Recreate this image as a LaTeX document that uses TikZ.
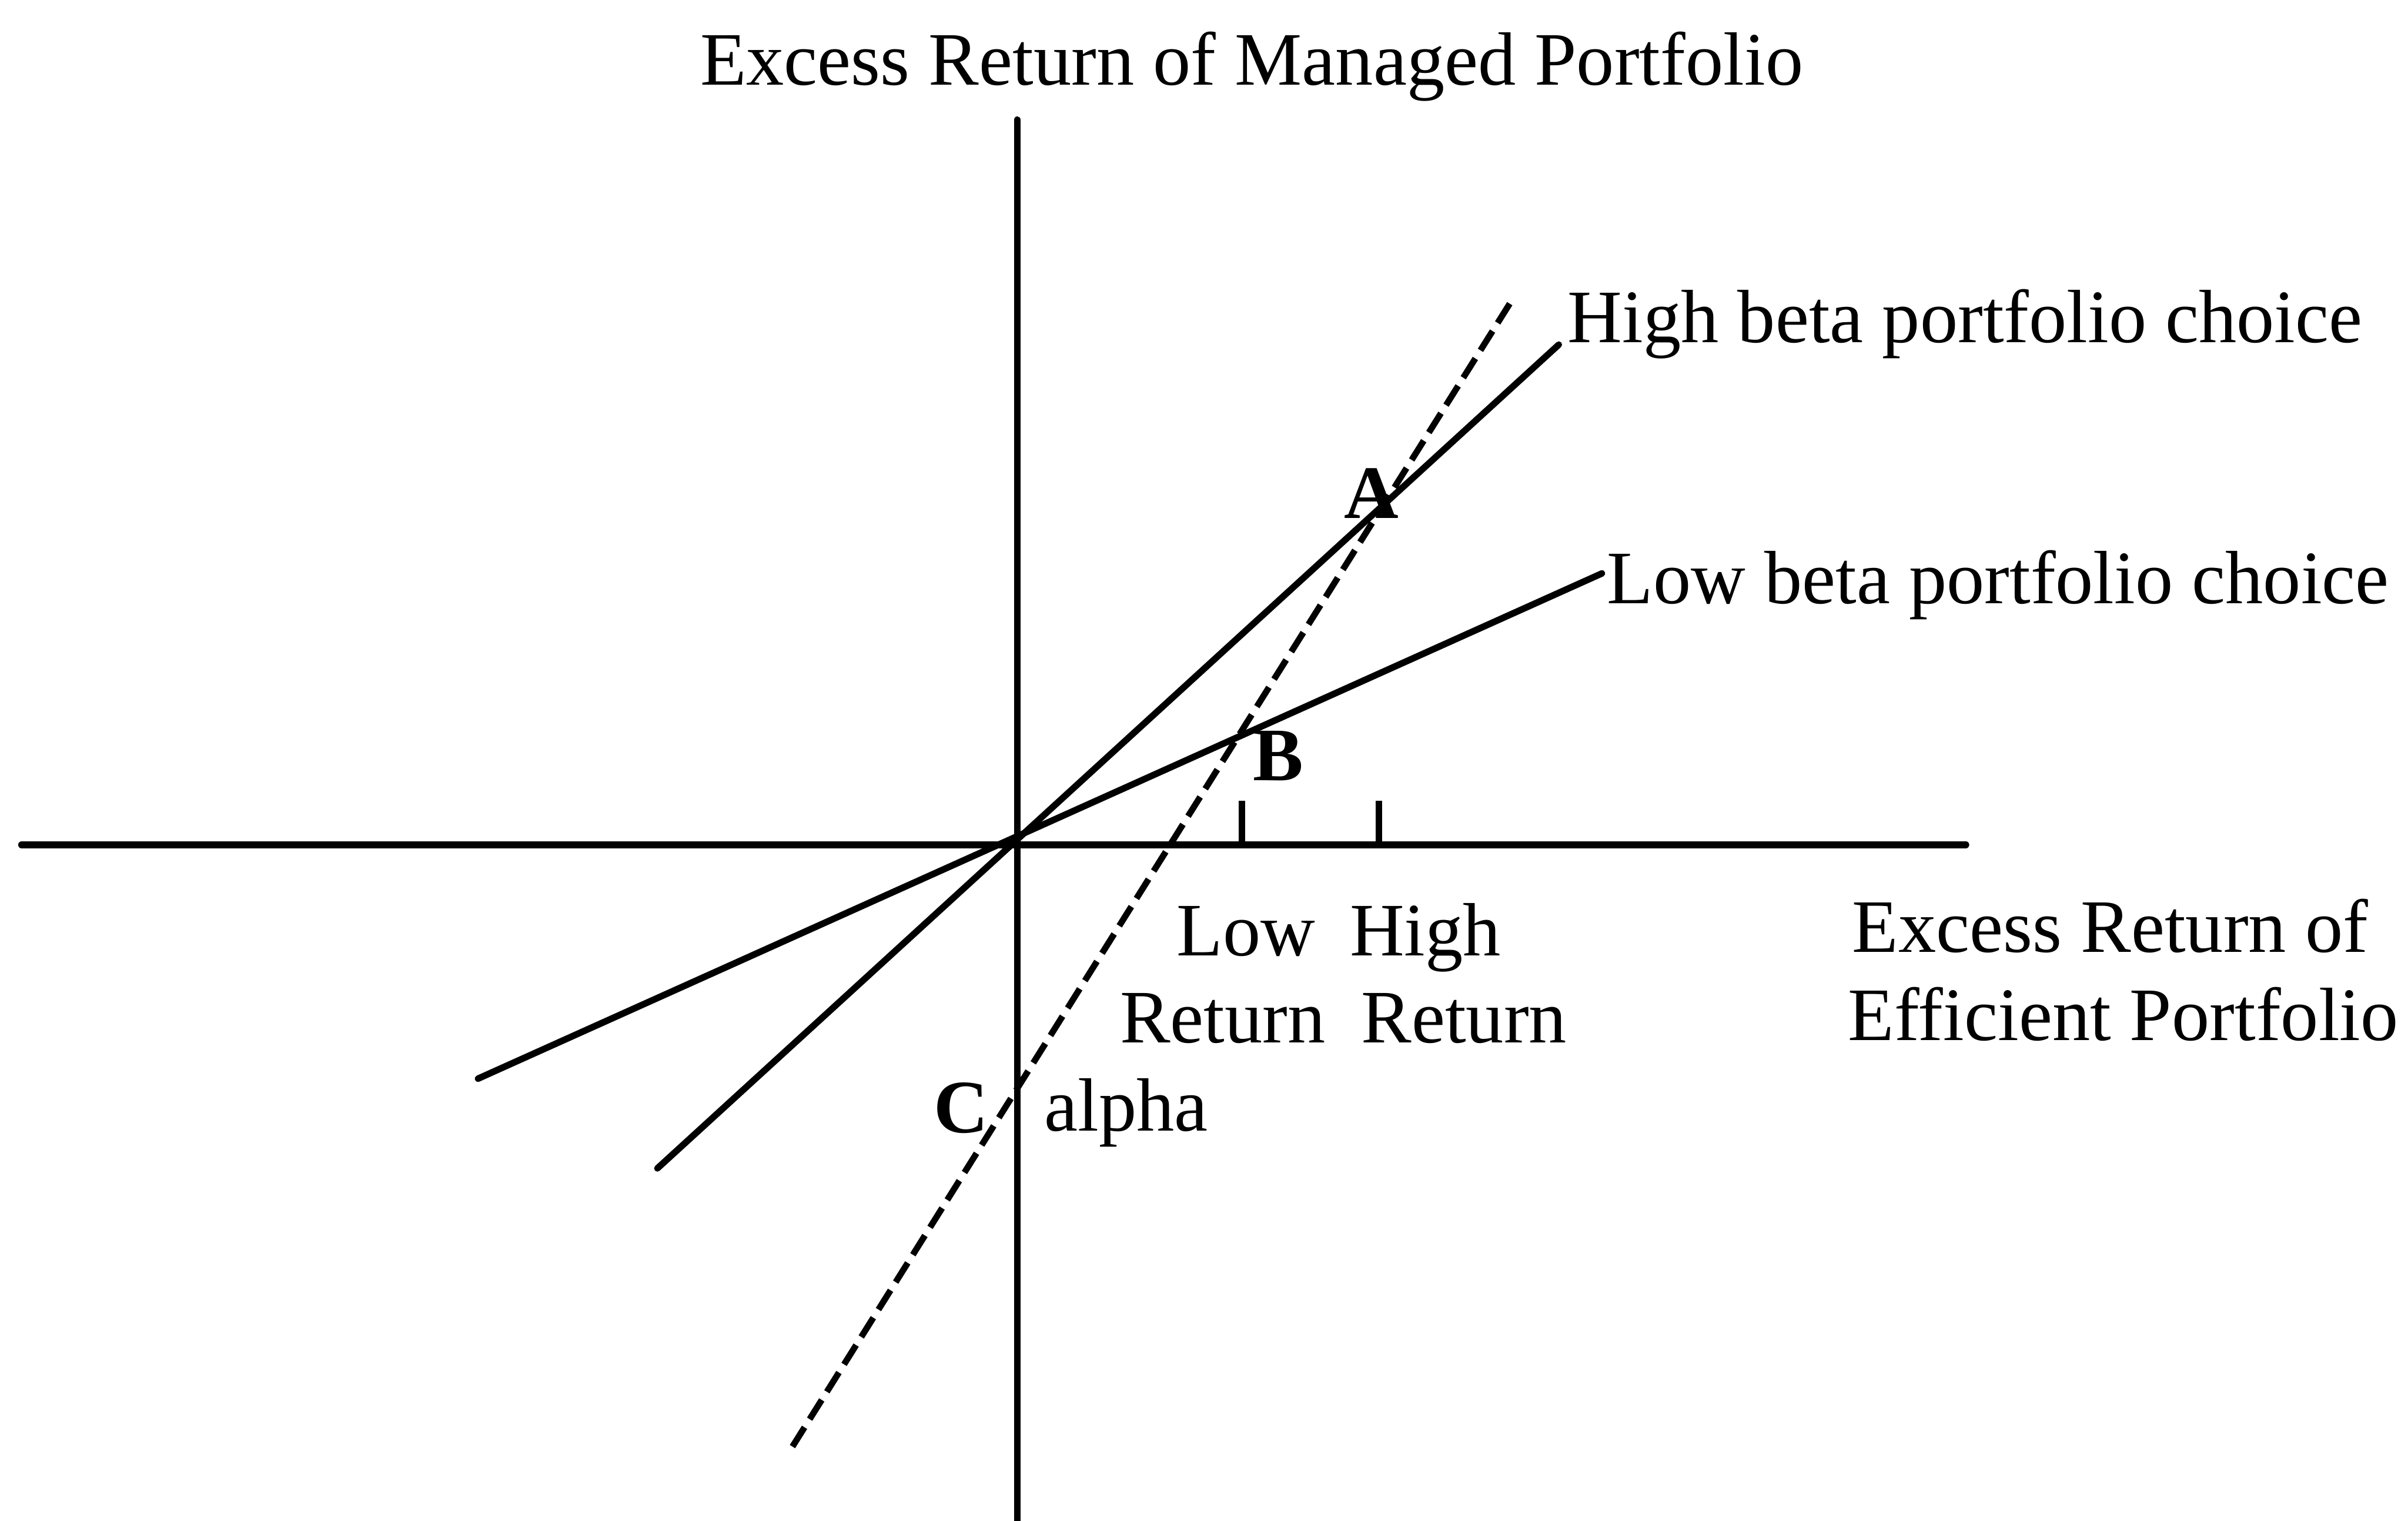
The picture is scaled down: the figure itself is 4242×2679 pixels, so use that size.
\documentclass[tikz,border=0pt]{standalone}
\usepackage{fontspec}
\setmainfont{Liberation Serif}
\begin{document}
\begin{tikzpicture}[x=0.1pt,y=-0.1pt,
  axisline/.style={line width=1.2pt, line cap=round},
  betaline/.style={line width=1.15pt, line cap=round},
  smlline/.style={line width=1.1pt, dash pattern=on 4pt off 1.7pt},
  tickmark/.style={line width=1.1pt},
  lbl/.style={inner sep=0pt, outer sep=0pt, anchor=base west,
    font=\fontsize{13.3pt}{16pt}\selectfont},
  ptlbl/.style={lbl, font=\fontsize{13.3pt}{16pt}\selectfont\bfseries}]

% page frame
\useasboundingbox (0,0) rectangle (4242,2679);
\fill[white] (0,0) rectangle (4242,2679);

% axes
\coordinate (xl) at (38,1488);
\coordinate (xr) at (3463,1488);
\coordinate (yt) at (1792,211);
\coordinate (yb) at (1792,2690);
\draw[axisline] (xl) -- (xr);
\draw[axisline] (yt) -- (yb);

% ticks for low and high return
\coordinate (t1a) at (2188,1410); \coordinate (t1b) at (2188,1488);
\coordinate (t2a) at (2429,1410); \coordinate (t2b) at (2429,1488);
\draw[tickmark] (t1a) -- (t1b);
\draw[tickmark] (t2a) -- (t2b);

% portfolio choice lines
\coordinate (hb1) at (1158,2058); \coordinate (hb2) at (2746,607);
\coordinate (lb1) at (842,1900);  \coordinate (lb2) at (2822,1010);
\draw[betaline] (hb1) -- (hb2);
\draw[betaline] (lb1) -- (lb2);

% dashed line through A and B
\coordinate (d1) at (1396,2548); \coordinate (d2) at (2667,523);
\draw[smlline] (d1) -- (d2);

% axis titles
\node[lbl, anchor=base] (ytitle) at (2205,150) {Excess Return of Managed Portfolio};
\node[lbl] (xt1) at (3263,1677) {Excess Return of};
\node[lbl] (xt2) at (3256,1833) {Efficient Portfolio};

% line labels
\node[lbl] (hbl) at (2762,603) {High beta portfolio choice};
\node[lbl] (lbl) at (2831,1063) {Low beta portfolio choice};

% return labels
\node[lbl] (lowr)  at (2073,1683) {Low};
\node[lbl] (highr) at (2378,1683) {High};
\node[lbl] (ret1)  at (1973,1837) {Return};
\node[lbl] (ret2)  at (2398,1837) {Return};

% points
\node[ptlbl] (pA) at (2368,913) {A};
\node[ptlbl] (pB) at (2207,1375) {B};
\node[ptlbl] (pC) at (1645,1995) {C};
\node[lbl] (alph) at (1840,1992) {alpha};
\end{tikzpicture}
\end{document}
